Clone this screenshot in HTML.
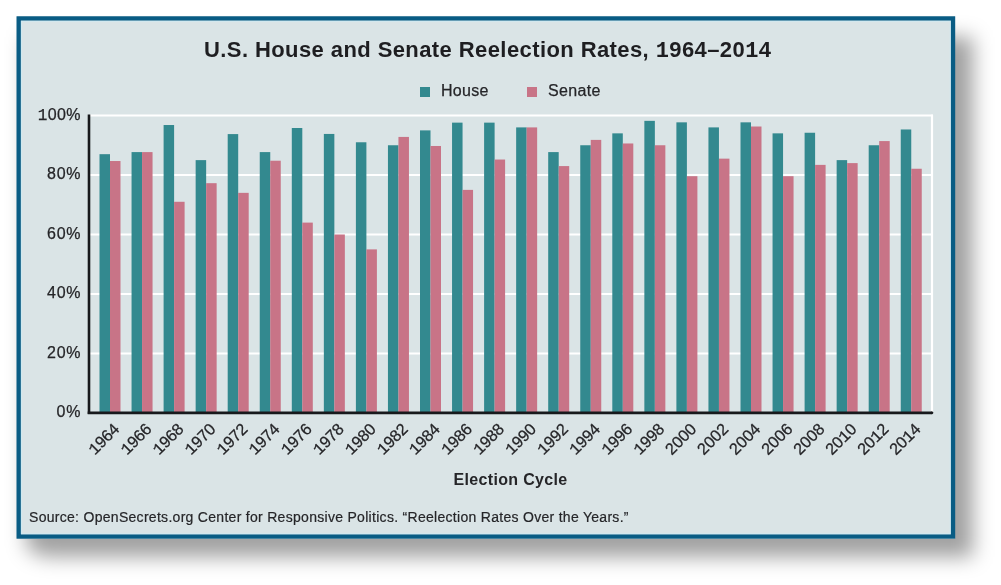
<!DOCTYPE html>
<html><head><meta charset="utf-8"><style>
html,body{margin:0;padding:0;background:#fff;width:1001px;height:585px;overflow:hidden}
#shadow{position:absolute;left:26px;top:36.5px;width:947.00px;height:520.50px;background:rgba(0,0,0,0.37);border-radius:0 0 0 25px / 0 0 0 15px;filter:blur(10px)}
#frame{position:absolute;left:16.5px;top:16.3px;width:938.70px;height:522.40px;background:#dae4e6}
svg{position:absolute;left:0;top:0;will-change:transform}
text{font-family:"Liberation Sans",sans-serif;fill:#252528}
.t16{font-size:16px;stroke:#252528;stroke-width:0.25px}
.t15{font-size:16.3px;stroke:#252528;stroke-width:0.25px}
.title{font-size:22px;font-weight:bold;fill:#1e1e21}
.bold16{font-size:16px;font-weight:bold}
tspan.m1{font-family:"Liberation Mono",monospace}
.src{font-size:14px;stroke:#252528;stroke-width:0.2px}
</style></head><body>
<div id="shadow"></div><div id="frame"></div>
<svg width="1001" height="585" viewBox="0 0 1001 585">
<rect x="18.70" y="18.50" width="934.30" height="518.00" fill="none" stroke="#095c84" stroke-width="4.4"/>
<rect x="21.40" y="21.20" width="928.90" height="512.60" fill="none" stroke="#cdebf5" stroke-width="1" opacity="0.8"/>
<text x="487.5" y="57" text-anchor="middle" class="title" textLength="567" lengthAdjust="spacing">U.S. House and Senate Reelection Rates, <tspan class="m1">1</tspan>964–20<tspan class="m1">1</tspan>4</text>
<rect x="420" y="87" width="10" height="10" fill="#33898f"/>
<text x="441" y="95.6" class="t16" textLength="47.5" lengthAdjust="spacing">House</text>
<rect x="527" y="87" width="10" height="10" fill="#c87487"/>
<text x="548" y="95.6" class="t16" textLength="52.5" lengthAdjust="spacing">Senate</text>
<line x1="90" y1="413.00" x2="933" y2="413.00" stroke="#fff" stroke-width="2.2"/><line x1="90" y1="353.50" x2="933" y2="353.50" stroke="#fff" stroke-width="2.2"/><line x1="90" y1="294.00" x2="933" y2="294.00" stroke="#fff" stroke-width="2.2"/><line x1="90" y1="234.50" x2="933" y2="234.50" stroke="#fff" stroke-width="2.2"/><line x1="90" y1="175.00" x2="933" y2="175.00" stroke="#fff" stroke-width="2.2"/><line x1="90" y1="115.50" x2="933" y2="115.50" stroke="#fff" stroke-width="2.2"/>
<line x1="932" y1="115.5" x2="932" y2="413" stroke="#fff" stroke-width="2.2" stroke-linecap="round"/>
<rect x="99.50" y="154.18" width="10.5" height="258.82" fill="#33898f"/><rect x="110.00" y="161.02" width="10.5" height="251.98" fill="#c87487"/><rect x="131.55" y="152.09" width="10.5" height="260.91" fill="#33898f"/><rect x="142.05" y="152.09" width="10.5" height="260.91" fill="#c87487"/><rect x="163.60" y="125.02" width="10.5" height="287.98" fill="#33898f"/><rect x="174.10" y="201.78" width="10.5" height="211.22" fill="#c87487"/><rect x="195.65" y="160.12" width="10.5" height="252.88" fill="#33898f"/><rect x="206.15" y="183.18" width="10.5" height="229.82" fill="#c87487"/><rect x="227.70" y="134.09" width="10.5" height="278.91" fill="#33898f"/><rect x="238.20" y="192.85" width="10.5" height="220.15" fill="#c87487"/><rect x="259.75" y="152.09" width="10.5" height="260.91" fill="#33898f"/><rect x="270.25" y="160.72" width="10.5" height="252.28" fill="#c87487"/><rect x="291.80" y="128.00" width="10.5" height="285.00" fill="#33898f"/><rect x="302.30" y="222.60" width="10.5" height="190.40" fill="#c87487"/><rect x="323.85" y="133.94" width="10.5" height="279.06" fill="#33898f"/><rect x="334.35" y="234.50" width="10.5" height="178.50" fill="#c87487"/><rect x="355.90" y="142.27" width="10.5" height="270.73" fill="#33898f"/><rect x="366.40" y="249.38" width="10.5" height="163.62" fill="#c87487"/><rect x="387.95" y="145.25" width="10.5" height="267.75" fill="#33898f"/><rect x="398.45" y="136.92" width="10.5" height="276.08" fill="#c87487"/><rect x="420.00" y="130.38" width="10.5" height="282.62" fill="#33898f"/><rect x="430.50" y="145.99" width="10.5" height="267.01" fill="#c87487"/><rect x="452.05" y="122.64" width="10.5" height="290.36" fill="#33898f"/><rect x="462.55" y="189.88" width="10.5" height="223.12" fill="#c87487"/><rect x="484.10" y="122.64" width="10.5" height="290.36" fill="#33898f"/><rect x="494.60" y="159.53" width="10.5" height="253.47" fill="#c87487"/><rect x="516.15" y="127.40" width="10.5" height="285.60" fill="#33898f"/><rect x="526.65" y="127.40" width="10.5" height="285.60" fill="#c87487"/><rect x="548.20" y="152.09" width="10.5" height="260.91" fill="#33898f"/><rect x="558.70" y="166.07" width="10.5" height="246.93" fill="#c87487"/><rect x="580.25" y="145.25" width="10.5" height="267.75" fill="#33898f"/><rect x="590.75" y="139.89" width="10.5" height="273.11" fill="#c87487"/><rect x="612.30" y="133.35" width="10.5" height="279.65" fill="#33898f"/><rect x="622.80" y="143.47" width="10.5" height="269.53" fill="#c87487"/><rect x="644.35" y="120.85" width="10.5" height="292.15" fill="#33898f"/><rect x="654.85" y="145.25" width="10.5" height="267.75" fill="#c87487"/><rect x="676.40" y="122.34" width="10.5" height="290.66" fill="#33898f"/><rect x="686.90" y="176.19" width="10.5" height="236.81" fill="#c87487"/><rect x="708.45" y="127.40" width="10.5" height="285.60" fill="#33898f"/><rect x="718.95" y="158.64" width="10.5" height="254.36" fill="#c87487"/><rect x="740.50" y="122.34" width="10.5" height="290.66" fill="#33898f"/><rect x="751.00" y="126.51" width="10.5" height="286.49" fill="#c87487"/><rect x="772.55" y="133.35" width="10.5" height="279.65" fill="#33898f"/><rect x="783.05" y="176.19" width="10.5" height="236.81" fill="#c87487"/><rect x="804.60" y="132.75" width="10.5" height="280.25" fill="#33898f"/><rect x="815.10" y="164.88" width="10.5" height="248.12" fill="#c87487"/><rect x="836.65" y="160.12" width="10.5" height="252.88" fill="#33898f"/><rect x="847.15" y="163.10" width="10.5" height="249.90" fill="#c87487"/><rect x="868.70" y="145.25" width="10.5" height="267.75" fill="#33898f"/><rect x="879.20" y="141.08" width="10.5" height="271.92" fill="#c87487"/><rect x="900.75" y="129.48" width="10.5" height="283.52" fill="#33898f"/><rect x="911.25" y="168.75" width="10.5" height="244.25" fill="#c87487"/>
<line x1="89" y1="114.5" x2="89" y2="414" stroke="#17191c" stroke-width="2.6"/>
<line x1="87.7" y1="412.8" x2="932" y2="412.8" stroke="#17191c" stroke-width="2.7"/><circle cx="932" cy="412.8" r="1.35" fill="#17191c"/>
<text x="80.6" y="417.40" text-anchor="end" class="t16" textLength="24.2" lengthAdjust="spacing">0%</text><text x="80.6" y="357.90" text-anchor="end" class="t16" textLength="33.6" lengthAdjust="spacing">20%</text><text x="80.6" y="298.40" text-anchor="end" class="t16" textLength="33.6" lengthAdjust="spacing">40%</text><text x="80.6" y="238.90" text-anchor="end" class="t16" textLength="33.6" lengthAdjust="spacing">60%</text><text x="80.6" y="179.40" text-anchor="end" class="t16" textLength="33.6" lengthAdjust="spacing">80%</text><text x="80.6" y="119.90" text-anchor="end" class="t16" textLength="42.8" lengthAdjust="spacing"><tspan class="m1">1</tspan>00%</text>
<text transform="translate(120.50,430) rotate(-45)" text-anchor="end" class="t15" textLength="36.3" lengthAdjust="spacing"><tspan class="m1">1</tspan>964</text><text transform="translate(152.55,430) rotate(-45)" text-anchor="end" class="t15" textLength="36.3" lengthAdjust="spacing"><tspan class="m1">1</tspan>966</text><text transform="translate(184.60,430) rotate(-45)" text-anchor="end" class="t15" textLength="36.3" lengthAdjust="spacing"><tspan class="m1">1</tspan>968</text><text transform="translate(216.65,430) rotate(-45)" text-anchor="end" class="t15" textLength="36.3" lengthAdjust="spacing"><tspan class="m1">1</tspan>970</text><text transform="translate(248.70,430) rotate(-45)" text-anchor="end" class="t15" textLength="36.3" lengthAdjust="spacing"><tspan class="m1">1</tspan>972</text><text transform="translate(280.75,430) rotate(-45)" text-anchor="end" class="t15" textLength="36.3" lengthAdjust="spacing"><tspan class="m1">1</tspan>974</text><text transform="translate(312.80,430) rotate(-45)" text-anchor="end" class="t15" textLength="36.3" lengthAdjust="spacing"><tspan class="m1">1</tspan>976</text><text transform="translate(344.85,430) rotate(-45)" text-anchor="end" class="t15" textLength="36.3" lengthAdjust="spacing"><tspan class="m1">1</tspan>978</text><text transform="translate(376.90,430) rotate(-45)" text-anchor="end" class="t15" textLength="36.3" lengthAdjust="spacing"><tspan class="m1">1</tspan>980</text><text transform="translate(408.95,430) rotate(-45)" text-anchor="end" class="t15" textLength="36.3" lengthAdjust="spacing"><tspan class="m1">1</tspan>982</text><text transform="translate(441.00,430) rotate(-45)" text-anchor="end" class="t15" textLength="36.3" lengthAdjust="spacing"><tspan class="m1">1</tspan>984</text><text transform="translate(473.05,430) rotate(-45)" text-anchor="end" class="t15" textLength="36.3" lengthAdjust="spacing"><tspan class="m1">1</tspan>986</text><text transform="translate(505.10,430) rotate(-45)" text-anchor="end" class="t15" textLength="36.3" lengthAdjust="spacing"><tspan class="m1">1</tspan>988</text><text transform="translate(537.15,430) rotate(-45)" text-anchor="end" class="t15" textLength="36.3" lengthAdjust="spacing"><tspan class="m1">1</tspan>990</text><text transform="translate(569.20,430) rotate(-45)" text-anchor="end" class="t15" textLength="36.3" lengthAdjust="spacing"><tspan class="m1">1</tspan>992</text><text transform="translate(601.25,430) rotate(-45)" text-anchor="end" class="t15" textLength="36.3" lengthAdjust="spacing"><tspan class="m1">1</tspan>994</text><text transform="translate(633.30,430) rotate(-45)" text-anchor="end" class="t15" textLength="36.3" lengthAdjust="spacing"><tspan class="m1">1</tspan>996</text><text transform="translate(665.35,430) rotate(-45)" text-anchor="end" class="t15" textLength="36.3" lengthAdjust="spacing"><tspan class="m1">1</tspan>998</text><text transform="translate(697.40,430) rotate(-45)" text-anchor="end" class="t15" textLength="36.3" lengthAdjust="spacing">2000</text><text transform="translate(729.45,430) rotate(-45)" text-anchor="end" class="t15" textLength="36.3" lengthAdjust="spacing">2002</text><text transform="translate(761.50,430) rotate(-45)" text-anchor="end" class="t15" textLength="36.3" lengthAdjust="spacing">2004</text><text transform="translate(793.55,430) rotate(-45)" text-anchor="end" class="t15" textLength="36.3" lengthAdjust="spacing">2006</text><text transform="translate(825.60,430) rotate(-45)" text-anchor="end" class="t15" textLength="36.3" lengthAdjust="spacing">2008</text><text transform="translate(857.65,430) rotate(-45)" text-anchor="end" class="t15" textLength="36.3" lengthAdjust="spacing">20<tspan class="m1">1</tspan>0</text><text transform="translate(889.70,430) rotate(-45)" text-anchor="end" class="t15" textLength="36.3" lengthAdjust="spacing">20<tspan class="m1">1</tspan>2</text><text transform="translate(921.75,430) rotate(-45)" text-anchor="end" class="t15" textLength="36.3" lengthAdjust="spacing">20<tspan class="m1">1</tspan>4</text>
<text x="510.4" y="485" text-anchor="middle" class="bold16" textLength="113.6" lengthAdjust="spacing">Election Cycle</text>
<text x="29" y="521.8" class="src" textLength="599.5" lengthAdjust="spacing">Source: OpenSecrets.org Center for Responsive Politics. “Reelection Rates Over the Years.”</text>
</svg>
</body></html>
